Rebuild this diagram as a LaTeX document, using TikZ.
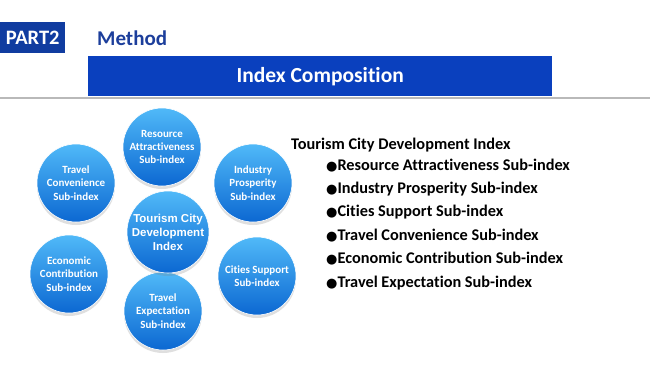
\documentclass[tikz,border=0pt]{standalone}
\usepackage{fontspec}
\setmainfont{Carlito}[Ligatures=CommonOff]
\newfontfamily\symfont{DejaVu Sans}
\newfontfamily\arialfont{Liberation Sans}
\usetikzlibrary{shadows}
\definecolor{partblue}{RGB}{16,60,160}
\definecolor{bannerblue}{RGB}{10,64,190}
\definecolor{methblue}{RGB}{28,62,155}
\definecolor{balltop}{RGB}{80,185,248}
\definecolor{ballmid}{RGB}{26,140,234}
\definecolor{ballbot}{RGB}{12,104,210}
\tikzset{
  ball/.style={circle, minimum size=78pt, inner sep=0pt, top color=balltop, middle color=ballmid, bottom color=ballbot,
    draw=white, line width=0.6pt, align=center, text=white, font=\bfseries\fontsize{11}{13.3}\selectfont,
    drop shadow={opacity=0.25, shadow xshift=0pt, shadow yshift=-3pt}},
  bigball/.style={ball, minimum size=82pt, font=\arialfont\bfseries\fontsize{11.5}{14}\selectfont},
  listitem/.style={anchor=west, inner sep=0pt, font=\bfseries\fontsize{16.3}{18}\selectfont},
}
\begin{document}
\begin{tikzpicture}[x=1pt,y=-1pt]
\useasboundingbox (0,0) rectangle (650,366);
% header
\node[fill=partblue, minimum width=65pt, minimum height=31pt, inner sep=0pt, anchor=north west,
  text=white, font=\bfseries\fontsize{20.5}{22}\selectfont] (part) at (0,22) {PART2};
\node[anchor=west, inner sep=0pt, text=methblue, font=\bfseries\fontsize{21}{23}\selectfont] (method) at (97,38) {Method};
\node[fill=bannerblue, minimum width=464pt, minimum height=40pt, inner sep=0pt, anchor=north west,
  text=white, font=\bfseries\fontsize{21.5}{23}\selectfont] (banner) at (88,56) {Index Composition};
\coordinate (l1) at (0,98);
\coordinate (l2) at (650,98);
\draw[gray!55, line width=1.5pt] (l1) -- (l2);
% balls
\node[ball] (res) at (162,147) {Resource\\Attractiveness\\Sub-index};
\node[ball] (tc) at (76,183) {Travel\\Convenience\\Sub-index};
\node[ball] (ip) at (253,183) {Industry\\Prosperity\\Sub-index};
\node[ball] (ec) at (69,274) {Economic\\Contribution\\Sub-index};
\node[ball] (cs) at (257,276) {Cities Support\\Sub-index};
\node[ball] (te) at (163,311) {Travel\\Expectation\\Sub-index};
\node[bigball] (ctr) at (168,232) {Tourism City\\Development\\Index};
% list
\node[listitem] (title) at (291,145) {Tourism City Development Index};
\foreach \y/\t [count=\i] in {166/Resource Attractiveness Sub-index,189/Industry Prosperity Sub-index,212/Cities Support Sub-index,236/Travel Convenience Sub-index,259/Economic Contribution Sub-index,283/Travel Expectation Sub-index}
  \node[listitem] (item\i) at (326,\y) {{\symfont\fontsize{13}{14}\selectfont ●}\t};
\end{tikzpicture}
\end{document}
